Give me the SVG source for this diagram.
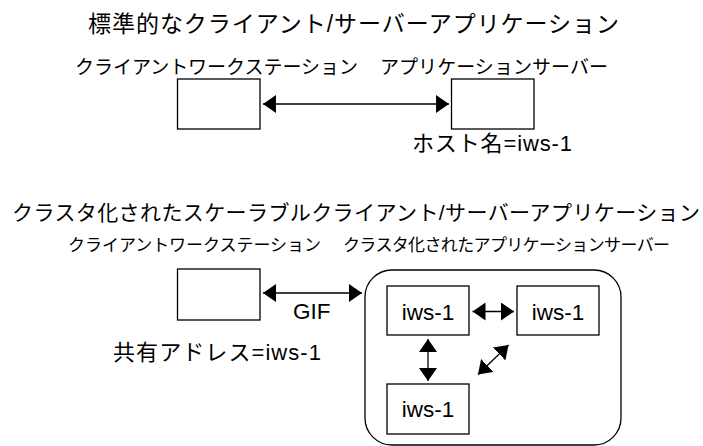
<svg xmlns="http://www.w3.org/2000/svg" width="703" height="446" viewBox="0 0 703 446">
  <style>
    text { font-family: "Liberation Sans", "Noto Sans CJK JP", sans-serif; fill: #000; }
    .box { fill: #fff; stroke: #000; stroke-width: 1.3; }
    .cluster { fill: none; stroke: #000; stroke-width: 1.3; }
    .link { stroke: #000; stroke-width: 1.3; fill: none; marker-start: url(#head); marker-end: url(#head); }
    .title1 { font-size: 23px; }
    .title2 { font-size: 21px; }
    .lbl1 { font-size: 19px; }
    .lbl2 { font-size: 17px; }
    .note { font-size: 22px; }
    .host { font-size: 22.5px; text-anchor: middle; }
  </style>
  <defs>
    <marker id="head" viewBox="0 0 13 18" refX="13" refY="9" markerWidth="13" markerHeight="18" markerUnits="userSpaceOnUse" orient="auto-start-reverse">
      <path d="M0,0 L13,9 L0,18 Z" fill="#000"/>
    </marker>
  </defs>

  <!-- Standard client/server section -->
  <text class="title1" x="88" y="32" textLength="531">標準的なクライアント/サーバーアプリケーション</text>

  <g id="client1">
    <text class="lbl1" x="75" y="74" textLength="283">クライアントワークステーション</text>
    <rect class="box" x="177.5" y="79" width="82.5" height="50"/>
  </g>

  <g id="server1">
    <text class="lbl1" x="380" y="74" textLength="228">アプリケーションサーバー</text>
    <rect class="box" x="451.5" y="79" width="82.5" height="50"/>
    <text class="note" x="412" y="151" textLength="160">ホスト名=iws-1</text>
  </g>

  <!-- Clustered scalable client/server section -->
  <text class="title2" x="12" y="220" textLength="688">クラスタ化されたスケーラブルクライアント/サーバーアプリケーション</text>

  <g id="client2">
    <text class="lbl2" x="68" y="251" textLength="253">クライアントワークステーション</text>
    <rect class="box" x="177.5" y="269" width="82.5" height="51"/>
    <text class="note" x="113" y="360" textLength="208">共有アドレス=iws-1</text>
  </g>

  <g id="cluster">
    <text class="lbl2" x="343" y="251" textLength="327">クラスタ化されたアプリケーションサーバー</text>
    <rect class="cluster" x="365" y="270" width="256" height="175" rx="27" ry="27"/>
  </g>

  <g id="nodeA">
    <rect class="box" x="387" y="286" width="82" height="49"/>
    <text class="host" x="428" y="320">iws-1</text>
  </g>

  <g id="nodeB">
    <rect class="box" x="517" y="286" width="82" height="49"/>
    <text class="host" x="558" y="320">iws-1</text>
  </g>

  <g id="nodeC">
    <rect class="box" x="387" y="384" width="82" height="50"/>
    <text class="host" x="428" y="417">iws-1</text>
  </g>

  <!-- Connectors -->
  <g id="connectors">
    <line class="link" x1="263" y1="104" x2="449" y2="104"/>
    <line class="link" x1="263" y1="293" x2="362" y2="293"/>
    <text x="293" y="319" style="font-size:22.5px">GIF</text>
    <line class="link" x1="472.5" y1="311.5" x2="514" y2="311.5"/>
    <line class="link" x1="428" y1="339" x2="428" y2="381"/>
    <line class="link" x1="478" y1="374.5" x2="508.5" y2="345"/>
  </g>
</svg>
